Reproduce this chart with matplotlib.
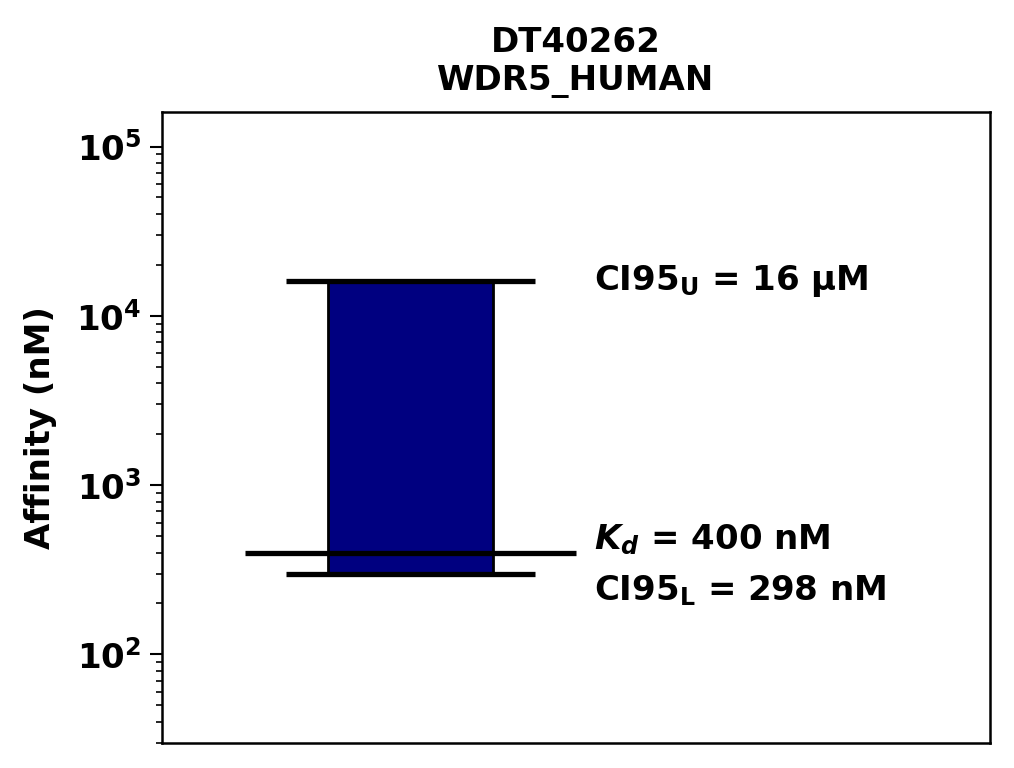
import matplotlib
matplotlib.use("Agg")
import matplotlib.pyplot as plt

compound = "DT40262"
target = "WDR5_HUMAN"
kd = 400.0          # nM
ci95_lower = 298.0  # nM
ci95_upper = 16000.0  # nM
ci_labels = ["CI95$_{\\mathbf{U}}$ = 16 µM", "$\\mathbfit{K_d}$ = 400 nM", "CI95$_{\\mathbf{L}}$ = 298 nM"]

plt.rcParams['font.family'] = ['DejaVu Sans']
plt.rcParams['font.weight'] = 'bold'
plt.rcParams['axes.labelweight'] = 'bold'
plt.rcParams['axes.titleweight'] = 'bold'

fig = plt.figure(figsize=(10.14, 7.68), dpi=100)
ax = fig.add_axes([0.16, 0.0326, 0.816, 0.8216])

ax.set_yscale('log')
ax.set_xlim(0, 1)
ax.set_ylim(30, 160000)

ax.bar([0.3], [ci95_upper - ci95_lower], bottom=[ci95_lower], width=0.2,
       color='#000080', edgecolor='black', linewidth=2)
ax.hlines([ci95_upper, ci95_lower], 0.15, 0.45, colors='black', linewidth=3.8)
ax.hlines([kd], 0.10, 0.50, colors='black', linewidth=3.8)

fs = 24.5
ax.annotate(ci_labels[0], xy=(0.522, ci95_upper), xytext=(0, 0), textcoords='offset points',
            va='center', ha='left', fontsize=fs, fontweight='bold')
ax.annotate(ci_labels[1], xy=(0.522, kd), xytext=(0, 9), textcoords='offset points',
            va='center', ha='left', fontsize=fs, fontweight='bold')
ax.annotate(ci_labels[2], xy=(0.522, ci95_lower), xytext=(0, -12), textcoords='offset points',
            va='center', ha='left', fontsize=fs, fontweight='bold')

ax.set_title(compound + "\n" + target, fontsize=fs, fontweight='bold', pad=16)
ax.set_ylabel("Affinity (nM)", fontsize=fs, fontweight='bold', labelpad=14)

ax.set_xticks([])
ax.tick_params(axis='y', which='major', labelsize=fs, length=9, width=1.5, pad=6)
ax.tick_params(axis='y', which='minor', length=4.5, width=1.2)
for s in ax.spines.values():
    s.set_linewidth(1.8)

fig.savefig("out.png", dpi=100)
